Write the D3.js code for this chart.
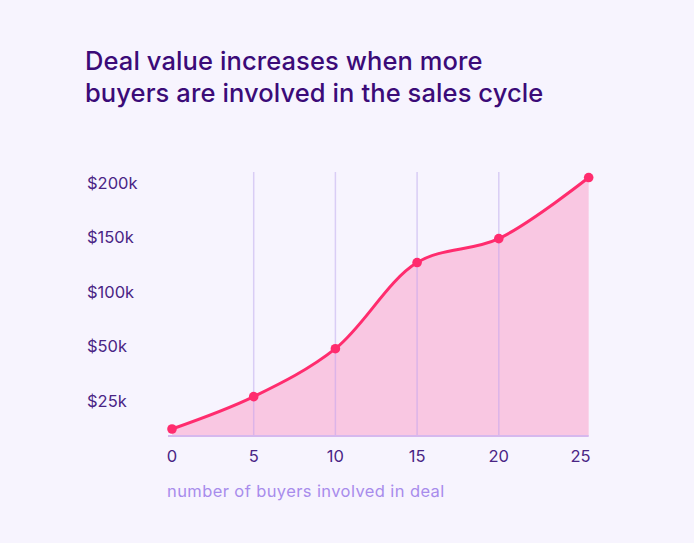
<!DOCTYPE html>
<html>
<head>
<meta charset="utf-8">
<script src="https://cdn.jsdelivr.net/npm/d3@7"></script>
<style>
  html, body { margin: 0; padding: 0; background: #f7f4fe; }
  svg { display: block; }
</style>
</head>
<body>
<div id="chart"></div>
<script>
var width = 694;
var height = 543;

// data
var buyers = [0, 5, 10, 15, 20, 25.5];
var dealValue = [13, 27, 49, 127, 149, 205];   // $k
var xTicks = [0, 5, 10, 15, 20, 25];
var gridTicks = [5, 10, 15, 20];
var yTicks = [200, 150, 100, 50, 25];
var yTickLabels = ["$200k", "$150k", "$100k", "$50k", "$25k"];
var titleLines = ["Deal value increases when more", "buyers are involved in the sales cycle"];

var data = buyers.map(function(b, i) { return { x: b, y: dealValue[i] }; });

var svg = d3.select("#chart")
            .append("svg")
            .attr("width", width)
            .attr("height", height);

svg.append("rect")
    .attr("width", width)
    .attr("height", height)
    .attr("fill", "#f7f4fe");

// title
svg.append("text")
    .attr("x", 85)
    .attr("y", 70)
    .style("font-family", "Inter")
    .style("font-size", "25.5px")
    .style("font-weight", "500")
    .style("letter-spacing", "0.1px")
    .style("fill", "#3b0b78")
    .selectAll("tspan")
    .data(titleLines)
    .join("tspan")
    .attr("x", 85)
    .attr("dy", function(d, i) { return i === 0 ? 0 : 32; })
    .text(function(d) { return d; });

var plotLeft = 172, plotBottom = 436, plotTop = 172;

var xscale = d3.scaleLinear()
                .domain([0, 25])
                .range([plotLeft, 580.5]);

// y labels sit evenly spaced, so the value scale is piecewise
var yPos = d3.scalePoint()
                .domain(yTicks)
                .range([183, 401]);
var yscale = d3.scaleLinear()
                .domain([10].concat(yTicks.slice().reverse()))
                .range([plotBottom].concat(yTicks.slice().reverse().map(function(t) { return yPos(t); })));

var curve = d3.curveCatmullRom.alpha(0.5);

// vertical grid lines
svg.append("g")
    .selectAll("line")
    .data(gridTicks)
    .join("line")
    .attr("x1", d => xscale(d))
    .attr("x2", d => xscale(d))
    .attr("y1", plotTop)
    .attr("y2", plotBottom)
    .style("stroke", "#d9cdf5")
    .style("stroke-width", 1.5);

var area = d3.area()
    .x(d => xscale(d.x))
    .y0(plotBottom)
    .y1(d => yscale(d.y))
    .curve(curve);

var line = d3.line()
    .x(d => xscale(d.x))
    .y(d => yscale(d.y))
    .curve(curve);

svg.append("path")
    .datum(data)
    .attr("d", area)
    .style("fill", "#f9c7e2");

// grid lines show through the fill
svg.append("g")
    .selectAll("line")
    .data(gridTicks)
    .join("line")
    .attr("x1", d => xscale(d))
    .attr("x2", d => xscale(d))
    .attr("y1", d => yscale(data[buyers.indexOf(d)].y))
    .attr("y2", plotBottom)
    .style("stroke", "#dcb4e8")
    .style("stroke-width", 1.5);

// baseline
svg.append("line")
    .attr("x1", plotLeft - 4)
    .attr("x2", xscale(buyers[buyers.length - 1]))
    .attr("y1", plotBottom)
    .attr("y2", plotBottom)
    .style("stroke", "#d6b8ee")
    .style("stroke-width", 2);

svg.append("path")
    .datum(data)
    .attr("d", line)
    .style("fill", "none")
    .style("stroke", "#ff2c6e")
    .style("stroke-width", 3);

svg.append("g")
    .selectAll("circle")
    .data(data)
    .join("circle")
    .attr("r", 4.8)
    .attr("cx", d => xscale(d.x))
    .attr("cy", d => yscale(d.y))
    .style("fill", "#ff2c6e");

// y labels
svg.append("g")
    .selectAll("text")
    .data(yTicks)
    .join("text")
    .attr("x", 87)
    .attr("y", d => yPos(d))
    .attr("dy", "0.35em")
    .style("font-family", "Inter")
    .style("font-size", "16.5px")
    .style("fill", "#4a2585")
    .text((d, i) => yTickLabels[i]);

// x labels
svg.append("g")
    .selectAll("text")
    .data(xTicks)
    .join("text")
    .attr("x", d => xscale(d))
    .attr("y", 456)
    .attr("dy", "0.35em")
    .style("text-anchor", "middle")
    .style("font-family", "Inter")
    .style("font-size", "16.5px")
    .style("fill", "#4a2585")
    .text(d => d);

// x axis title
svg.append("text")
    .attr("x", 167)
    .attr("y", 491)
    .attr("dy", "0.35em")
    .style("font-family", "Inter")
    .style("font-size", "16.5px")
    .style("letter-spacing", "0.4px")
    .style("fill", "#a88cec")
    .text("number of buyers involved in deal");
</script>
</body>
</html>
